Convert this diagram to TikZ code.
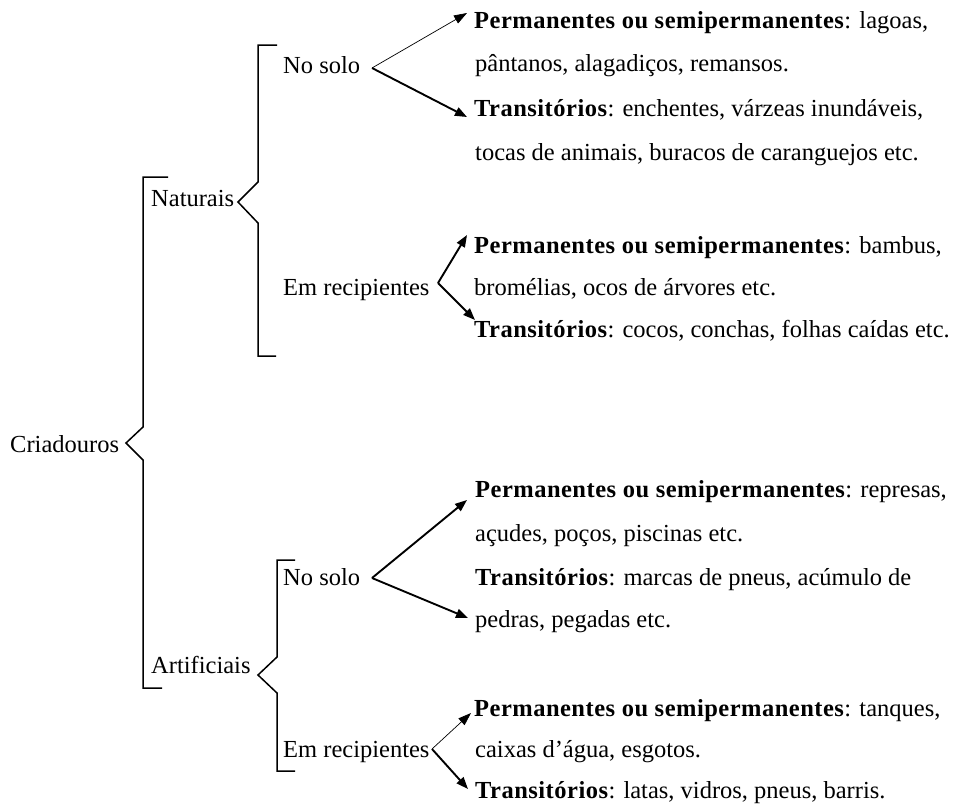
\documentclass[tikz,border=0pt]{standalone}
\usepackage{fontspec}
\setmainfont{Liberation Serif}[BoldFeatures={LetterSpace=2}]
\usetikzlibrary{arrows.meta}
\begin{document}
\begin{tikzpicture}[x=1pt,y=-1pt,
  txt/.style={anchor=base west,inner sep=0pt,font=\fontsize{24.5}{28}\selectfont},
  brk/.style={line width=1.5pt,line join=miter},
  thinarr/.style={line width=0.7pt,-{Triangle[length=13pt,width=9pt]}},
  thickarr/.style={line width=1.9pt,-{Triangle[length=12pt,width=9pt]}}]
\useasboundingbox (0,0) rectangle (965,809);
% left labels
\node[txt] (cria) at (10,452) {Criadouros};
\node[txt] (nat) at (151,206) {Naturais};
\node[txt] (art) at (151,673) {Artificiais};
\node[txt] (ns1) at (283,73) {No solo};
\node[txt] (er1) at (283,295) {Em recipientes};
\node[txt] (ns2) at (283,585) {No solo};
\node[txt] (er2) at (283,757) {Em recipientes};
% brackets
\draw[brk] (168,177) -- (143,177) -- (143,427) -- (126,443) -- (143,460) -- (143,688) -- (162,688);
\draw[brk] (277,45) -- (258,45) -- (258,182) -- (238,202) -- (258,223) -- (258,356) -- (276,356);
\draw[brk] (295,560) -- (277,560) -- (277,657) -- (258,675) -- (277,693) -- (277,771) -- (295,771);
% group 1
\node[txt] (g1a) at (474,28) {\textbf{Permanentes ou semipermanentes}: lagoas,};
\node[txt] (g1b) at (475,71) {pântanos, alagadiços, remansos.};
\node[txt] (g1c) at (474,116) {\textbf{Transitórios}: enchentes, várzeas inundáveis,};
\node[txt] (g1d) at (475,160) {tocas de animais, buracos de caranguejos etc.};
% group 2
\node[txt] (g2a) at (474,253) {\textbf{Permanentes ou semipermanentes}: bambus,};
\node[txt] (g2b) at (474,295) {bromélias, ocos de árvores etc.};
\node[txt] (g2c) at (474,337) {\textbf{Transitórios}: cocos, conchas, folhas caídas etc.};
% group 3
\node[txt] (g3a) at (475,497) {\textbf{Permanentes ou semipermanentes}: represas,};
\node[txt] (g3b) at (475,541) {açudes, poços, piscinas etc.};
\node[txt] (g3c) at (475,585) {\textbf{Transitórios}: marcas de pneus, acúmulo de};
\node[txt] (g3d) at (475,627) {pedras, pegadas etc.};
% group 4
\node[txt] (g4a) at (474,716) {\textbf{Permanentes ou semipermanentes}: tanques,};
\node[txt] (g4b) at (475,757) {caixas d’água, esgotos.};
\node[txt] (g4c) at (475,798) {\textbf{Transitórios}: latas, vidros, pneus, barris.};
% arrow coordinates
\coordinate (v1) at (372,68);
\coordinate (t1a) at (467,13);
\coordinate (t1b) at (467,117);
\coordinate (v2) at (438,283);
\coordinate (t2a) at (467,235);
\coordinate (t2b) at (475,320);
\coordinate (v3) at (372,578);
\coordinate (t3a) at (467,500);
\coordinate (t3b) at (468,618);
\coordinate (v4) at (432,749);
\coordinate (t4a) at (471,713);
\coordinate (t4b) at (468,789);
\draw[thinarr] (v1) -- (t1a);
\draw[thickarr] (v1) -- (t1b);
\draw[thickarr] (v2) -- (t2a);
\draw[thickarr] (v2) -- (t2b);
\draw[thickarr] (v3) -- (t3a);
\draw[thickarr] (v3) -- (t3b);
\draw[thinarr] (v4) -- (t4a);
\draw[thickarr] (v4) -- (t4b);
\end{tikzpicture}
\end{document}
